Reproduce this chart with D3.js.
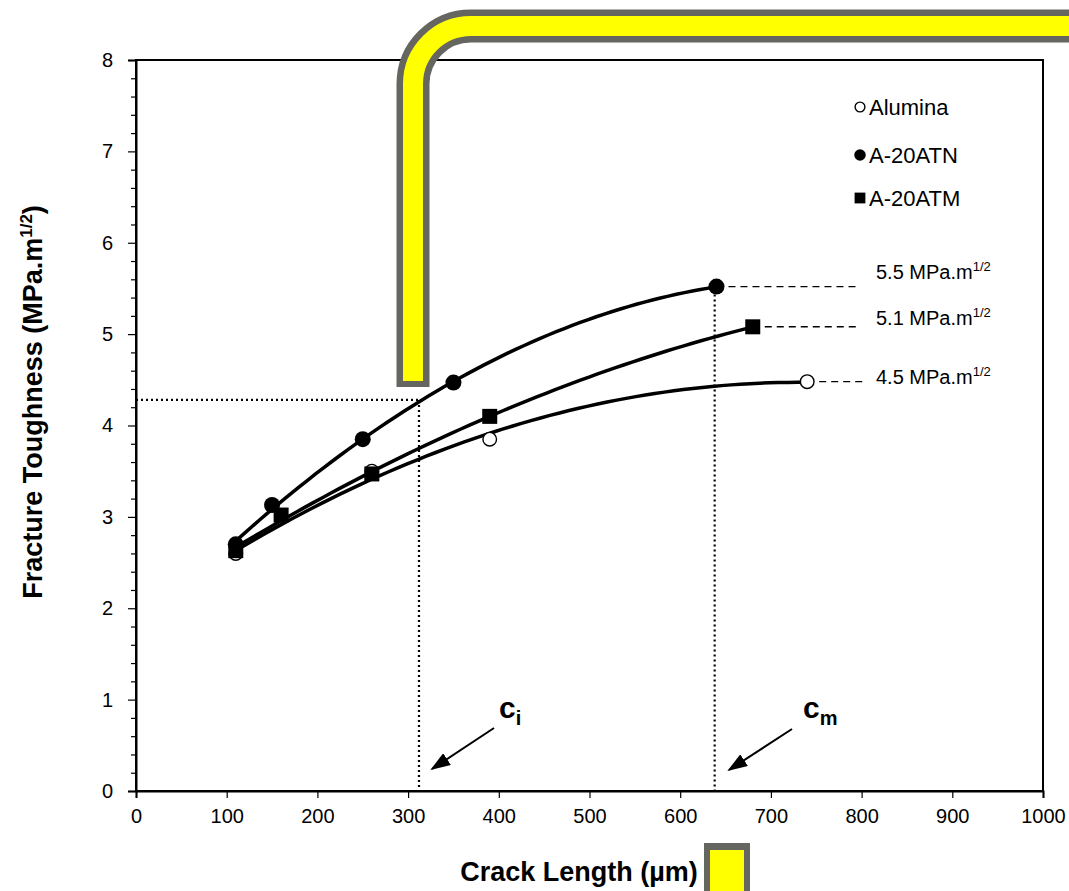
<!DOCTYPE html>
<html>
<head>
<meta charset="utf-8">
<script src="https://cdn.jsdelivr.net/npm/d3@7"></script>
<style>
  body { margin: 0; background: #fff; }
  svg { font-family: "Liberation Sans", Arial, sans-serif; }
</style>
</head>
<body>
<svg id="chart" width="1069" height="891"></svg>
<script>
// data
const alumina = [[110, 2.6], [260, 3.5], [390, 3.85], [740, 4.48]];
const atn = [[110, 2.7], [150, 3.13], [250, 3.85], [350, 4.47], [640, 5.52]];
const atm = [[110, 2.63], [160, 3.02], [260, 3.47], [390, 4.1], [680, 5.08]];
const seriesNames = ["Alumina", "A-20ATN", "A-20ATM"];
const plateauLabels = ["5.5", "5.1", "4.5"];
const xTicks = [0, 100, 200, 300, 400, 500, 600, 700, 800, 900, 1000];
const yTicks = [0, 1, 2, 3, 4, 5, 6, 7, 8];
const ci = 312, cm = 638, kAtCi = 4.28;

const svg = d3.select("#chart");
const margin = { left: 136, right: 26, top: 60, bottom: 100 };
const width = 1069, height = 891;

const x = d3.scaleLinear().domain([0, 1000]).range([margin.left, width - margin.right]);
const y = d3.scaleLinear().domain([0, 8]).range([height - margin.bottom, margin.top]);

// frame
svg.append("rect")
    .attr("x", x(0)).attr("y", y(8))
    .attr("width", x(1000) - x(0)).attr("height", y(0) - y(8))
    .attr("fill", "none").attr("stroke", "#000").attr("stroke-width", 2);

// axes
const xAxis = svg.append("g")
    .attr("transform", `translate(0,${y(0)})`)
    .call(d3.axisBottom(x).tickValues(xTicks).tickSize(7).tickPadding(11).tickFormat(d3.format("d")));
const yAxis = svg.append("g")
    .attr("transform", `translate(${x(0)},0)`)
    .call(d3.axisLeft(y).tickValues(yTicks).tickSize(8).tickPadding(15));
svg.append("g")
    .attr("transform", `translate(${x(0)},0)`)
    .call(d3.axisLeft(y).tickValues(d3.range(0, 8.01, 0.2).filter(v => Math.abs(v - Math.round(v)) > 0.01)).tickSize(5).tickFormat(""))
    .call(g => g.select(".domain").remove());
[xAxis, yAxis].forEach(g => {
    g.select(".domain").attr("stroke-width", 2);
    g.selectAll("text").attr("font-size", 20).attr("fill", "#000").attr("font-family", "Liberation Sans, Arial");
});
svg.selectAll(".tick line").attr("stroke", "#000").attr("stroke-width", 1.2);

// axis titles
svg.append("text")
    .attr("x", 579).attr("y", 881)
    .attr("text-anchor", "middle").attr("font-size", 27).attr("font-weight", "bold")
    .text("Crack Length (µm)");
const yt = svg.append("text")
    .attr("transform", "translate(42,402) rotate(-90)")
    .attr("text-anchor", "middle").attr("font-size", 27).attr("font-weight", "bold");
yt.append("tspan").text("Fracture Toughness (MPa.m");
yt.append("tspan").attr("font-size", 17).attr("dy", -10).text("1/2");
yt.append("tspan").attr("dy", 10).text(")");

// least squares quadratic trend line (like the spreadsheet trendline)
function quadFit(pts) {
    let s = [0, 0, 0, 0, 0], t = [0, 0, 0];
    pts.forEach(([a, b]) => {
        for (let k = 0; k < 5; k++) s[k] += Math.pow(a, k);
        for (let k = 0; k < 3; k++) t[k] += b * Math.pow(a, k);
    });
    const M = [[s[0], s[1], s[2], t[0]], [s[1], s[2], s[3], t[1]], [s[2], s[3], s[4], t[2]]];
    for (let i = 0; i < 3; i++) {
        for (let j = i + 1; j < 3; j++) {
            const f = M[j][i] / M[i][i];
            for (let k = i; k < 4; k++) M[j][k] -= f * M[i][k];
        }
    }
    const c = [0, 0, 0];
    for (let i = 2; i >= 0; i--) {
        let v = M[i][3];
        for (let k = i + 1; k < 3; k++) v -= M[i][k] * c[k];
        c[i] = v / M[i][i];
    }
    return v => c[0] + c[1] * v + c[2] * v * v;
}

const line = d3.line().x(d => x(d[0])).y(d => y(d[1]));
[alumina, atn, atm].forEach(pts => {
    const f = quadFit(pts);
    const x0 = pts[0][0], x1 = pts[pts.length - 1][0];
    const samples = d3.range(0, 61).map(i => x0 + (x1 - x0) * i / 60);
    svg.append("path")
        .datum(samples.map(v => [v, f(v)]))
        .attr("d", line)
        .attr("fill", "none").attr("stroke", "#000").attr("stroke-width", 3.5);
});

// markers
function drawMarker(g, type, cx, cy, scale) {
    if (type === 0) {
        g.append("circle").attr("cx", cx).attr("cy", cy).attr("r", 6.8 * scale)
            .attr("fill", "#fff").attr("stroke", "#000").attr("stroke-width", 1.4);
    } else if (type === 1) {
        g.append("circle").attr("cx", cx).attr("cy", cy).attr("r", 8 * scale).attr("fill", "#000");
    } else {
        const s = 15 * scale;
        g.append("rect").attr("x", cx - s / 2).attr("y", cy - s / 2).attr("width", s).attr("height", s).attr("fill", "#000");
    }
}
const markers = svg.append("g");
[alumina, atn, atm].forEach((pts, i) => pts.forEach(p => drawMarker(markers, i, x(p[0]), y(p[1]), 1)));

// legend
const legendY = [107, 155, 198];
seriesNames.forEach((name, i) => {
    drawMarker(svg, i, 860, legendY[i], 0.72);
    svg.append("text").attr("x", 869).attr("y", legendY[i] + 8)
        .attr("font-size", 22).text(name);
});

// plateau dashed lines and labels
const lastPts = [atn[atn.length - 1], atm[atm.length - 1], alumina[alumina.length - 1]];
const dashEnd = [857, 860, 866];
const labelDy = [-8, -2, 2];
lastPts.forEach((p, i) => {
    svg.append("line")
        .attr("x1", x(p[0]) + 12).attr("x2", dashEnd[i])
        .attr("y1", y(p[1])).attr("y2", y(p[1]))
        .attr("stroke", "#000").attr("stroke-width", 1.4).attr("stroke-dasharray", "7,5");
    const t = svg.append("text").attr("x", 876).attr("y", y(p[1]) + labelDy[i]).attr("font-size", 20);
    t.append("tspan").text(plateauLabels[i] + " MPa.m");
    t.append("tspan").attr("font-size", 13).attr("dy", -8).text("1/2");
});

// dotted construction lines
function dline(x1, y1, x2, y2) {
    svg.append("line").attr("x1", x1).attr("y1", y1).attr("x2", x2).attr("y2", y2)
        .attr("stroke", "#000").attr("stroke-width", 2.2).attr("stroke-dasharray", "2,3");
}
dline(x(0), y(kAtCi), x(ci), y(kAtCi));
dline(x(ci), y(kAtCi), x(ci), y(0));
dline(x(cm), y(atn[atn.length - 1][1]) + 8, x(cm), y(0));

// arrows and c labels
svg.append("defs").append("marker")
    .attr("id", "arrow").attr("viewBox", "0 0 10 7").attr("refX", 9).attr("refY", 3.5)
    .attr("markerWidth", 10).attr("markerHeight", 7).attr("orient", "auto")
    .append("path").attr("d", "M0,0 L10,3.5 L0,7 Z").attr("fill", "#000");
[[494, 728, 432, 769], [792, 729, 729, 770]].forEach(a => {
    svg.append("line").attr("x1", a[0]).attr("y1", a[1]).attr("x2", a[2]).attr("y2", a[3])
        .attr("stroke", "#000").attr("stroke-width", 2).attr("marker-end", "url(#arrow)");
});
[["c", "i", 499], ["c", "m", 803]].forEach(([a, b, px]) => {
    const t = svg.append("text").attr("x", px).attr("y", 718).attr("font-size", 30).attr("font-weight", "bold");
    t.append("tspan").text(a);
    t.append("tspan").attr("font-size", 20).attr("dy", 7).text(b);
});

// yellow pipe overlay
svg.append("path").attr("d", "M413,387 L413,84 A58,58 0 0 1 471,26 L1085,26")
    .attr("fill", "none").attr("stroke", "#666661").attr("stroke-width", 33);
svg.append("path").attr("d", "M413,381 L413,84 A58,58 0 0 1 471,26 L1085,26")
    .attr("fill", "none").attr("stroke", "#ffff00").attr("stroke-width", 20);

// small yellow box at bottom
svg.append("rect").attr("x", 704).attr("y", 843).attr("width", 46).attr("height", 60).attr("fill", "#666661");
svg.append("rect").attr("x", 710).attr("y", 850).attr("width", 34).attr("height", 60).attr("fill", "#ffff00");
</script>
</body>
</html>
